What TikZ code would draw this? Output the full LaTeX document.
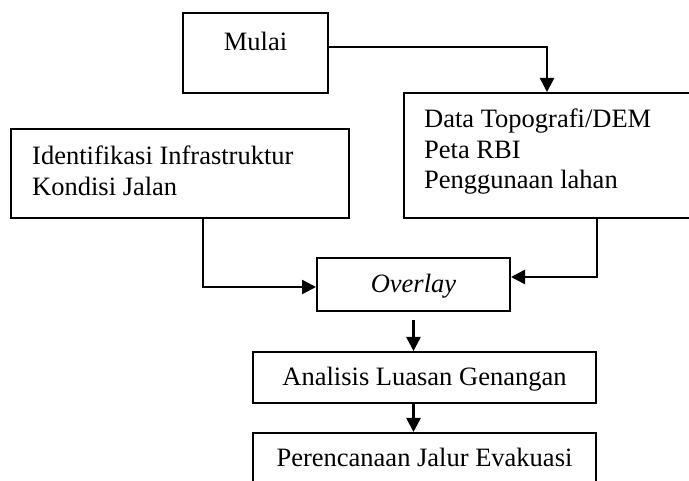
\documentclass[tikz,border=0pt]{standalone}
\usepackage{fontspec}
\setmainfont{Liberation Serif}
\usetikzlibrary{arrows.meta}
\begin{document}
\begin{tikzpicture}[x=1pt,y=-1pt,
  box/.style={draw, line width=2pt, rectangle, inner sep=0pt},
  lbl/.style={anchor=base, inner sep=0pt, font=\fontsize{26.5}{30}\selectfont},
  lbll/.style={anchor=base west, inner sep=0pt, font=\fontsize{26.5}{30}\selectfont},
  conn/.style={line width=2.6pt},
  arr/.style={conn, -{Triangle[length=14pt,width=14pt]}}]
\useasboundingbox (0,0) rectangle (689,481);
\clip (0,0) rectangle (689,481);
% boxes
\node[box, minimum width=145pt, minimum height=80pt] (mulai) at (255.5,53) {};
\node[box, minimum width=286pt, minimum height=125pt] (data) at (547,155.5) {};
\node[box, minimum width=338pt, minimum height=89pt] (ident) at (180,173.5) {};
\node[box, minimum width=193pt, minimum height=53pt] (overlay) at (413.5,284.5) {};
\node[box, minimum width=343pt, minimum height=51pt] (analisis) at (424.5,377.5) {};
\node[box, minimum width=343pt, minimum height=87pt] (perenc) at (424.5,476.5) {};
% texts
\node[lbl] (tmulai) at (255.5,51) {Mulai};
\node[lbll] (td1) at (424,128) {Data Topografi/DEM};
\node[lbll] (td2) at (424,158.5) {Peta RBI};
\node[lbll] (td3) at (424,189) {Penggunaan lahan};
\node[lbll] (ti1) at (32,165) {Identifikasi Infrastruktur};
\node[lbll] (ti2) at (32,196) {Kondisi Jalan};
\node[lbl] (tov) at (413.5,293) {\itshape Overlay};
\node[lbl] (tan) at (424.5,386) {Analisis Luasan Genangan};
\node[lbl] (tpe) at (424.5,467) {Perencanaan Jalur Evakuasi};
% connector ends
\coordinate (mOut) at ([yshift=6pt]mulai.east);
\coordinate (iOut) at (203,218);
\coordinate (dOut) at (597,218);
\coordinate (ovL) at ([yshift=-2.5pt]overlay.west);
\coordinate (ovR) at ([yshift=7.5pt]overlay.east);
% connectors
\draw[arr] (mOut) -| (data.north);
\draw[arr] (iOut) |- (ovL);
\draw[arr] (dOut) |- (ovR);
\draw[arr, shorten <=8pt] (overlay.south) -- (overlay.south |- analisis.north);
\draw[arr] (analisis.south -| overlay.south) -- (perenc.north -| overlay.south);
\end{tikzpicture}
\end{document}
